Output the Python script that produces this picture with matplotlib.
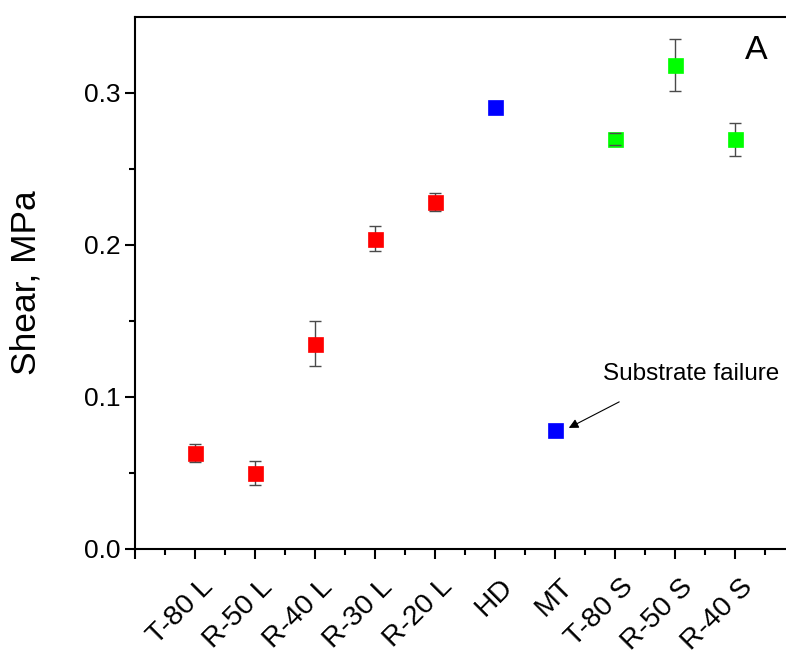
import matplotlib.pyplot as plt
import matplotlib.transforms as mtransforms
import numpy as np

# data
samples = ["T-80 L", "R-50 L", "R-40 L", "R-30 L", "R-20 L",
           "HD", "MT", "T-80 S", "R-50 S", "R-40 S"]
shear = [0.063, 0.050, 0.135, 0.204, 0.228, 0.2905, 0.0783, 0.2693, 0.318, 0.2693]
shear_err = [0.006, 0.008, 0.015, 0.008, 0.006, 0.0, 0.0, 0.004, 0.017, 0.011]
point_colors = ["#ff0000"] * 5 + ["#0000ff"] * 2 + ["#00ff00"] * 3

png_width = 786
png_height = 651
png_dpi = 100

plt.rcParams['font.family'] = ['Liberation Sans', 'DejaVu Sans']

fig = plt.figure(figsize=(png_width / png_dpi, png_height / png_dpi), dpi=png_dpi)
ax = fig.add_axes([135 / 786, 1 - 549 / 651, 651 / 786, (549 - 16.5) / 651])

x = np.arange(1, len(samples) + 1)
for xi, yi, ei, c in zip(x, shear, shear_err, point_colors):
    ax.plot(xi, yi, 's', color=c, markersize=10.8, markeredgecolor=c,
            markeredgewidth=0.5, zorder=3)
    if ei > 0:
        _, caps, bars = ax.errorbar(xi, yi, yerr=ei, fmt='none',
                                    ecolor='#4a4a4a', elinewidth=1.0,
                                    capsize=4.5, capthick=1.0)
        for b in bars:
            b.set_zorder(2)
        for cp in caps:
            cp.set_zorder(4)

ax.set_xlim(0, 10.85)
ax.set_ylim(0, 0.35)

# axes styling
ax.spines['right'].set_visible(False)
for s in ['left', 'bottom', 'top']:
    ax.spines[s].set_linewidth(1.5)

ax.set_yticks([0.0, 0.1, 0.2, 0.3])
ax.set_yticklabels(["0.0", "0.1", "0.2", "0.3"])
ax.set_yticks(np.arange(0.05, 0.35, 0.1), minor=True)
ax.set_xticks(np.arange(0, 11))
ax.set_xticklabels([""] + samples)
ax.set_xticks(np.arange(0.5, 11, 1), minor=True)

ax.tick_params(axis='both', which='major', direction='out', length=7, width=1.5)
ax.tick_params(axis='both', which='minor', direction='out', length=4, width=1.5)
ax.tick_params(axis='y', pad=3.5, labelsize=19)
ax.tick_params(axis='x', pad=17.5, labelsize=20.5)

offset = mtransforms.ScaledTranslation(14 / png_dpi, 0, fig.dpi_scale_trans)
for lab in ax.get_xticklabels():
    lab.set_rotation(45)
    lab.set_ha('right')
    lab.set_va('center')
    lab.set_rotation_mode('anchor')
    lab.set_transform(lab.get_transform() + offset)

ax.set_ylabel("Shear, MPa", fontsize=25.5)
ax.yaxis.set_label_coords(-0.142, 0.5)

# annotations
ax.annotate("", xy=(7.23, 0.0796), xytext=(8.07, 0.0967),
            arrowprops=dict(arrowstyle='-|>', color='black', lw=0.8,
                            mutation_scale=14, shrinkA=0, shrinkB=0))
ax.text(7.8, 0.111, "Substrate failure", fontsize=17.5, ha='left', va='baseline')
ax.text(10.35, 0.322, "A", fontsize=24.5, ha='center', va='baseline')

plt.savefig("out.png", dpi=png_dpi)
